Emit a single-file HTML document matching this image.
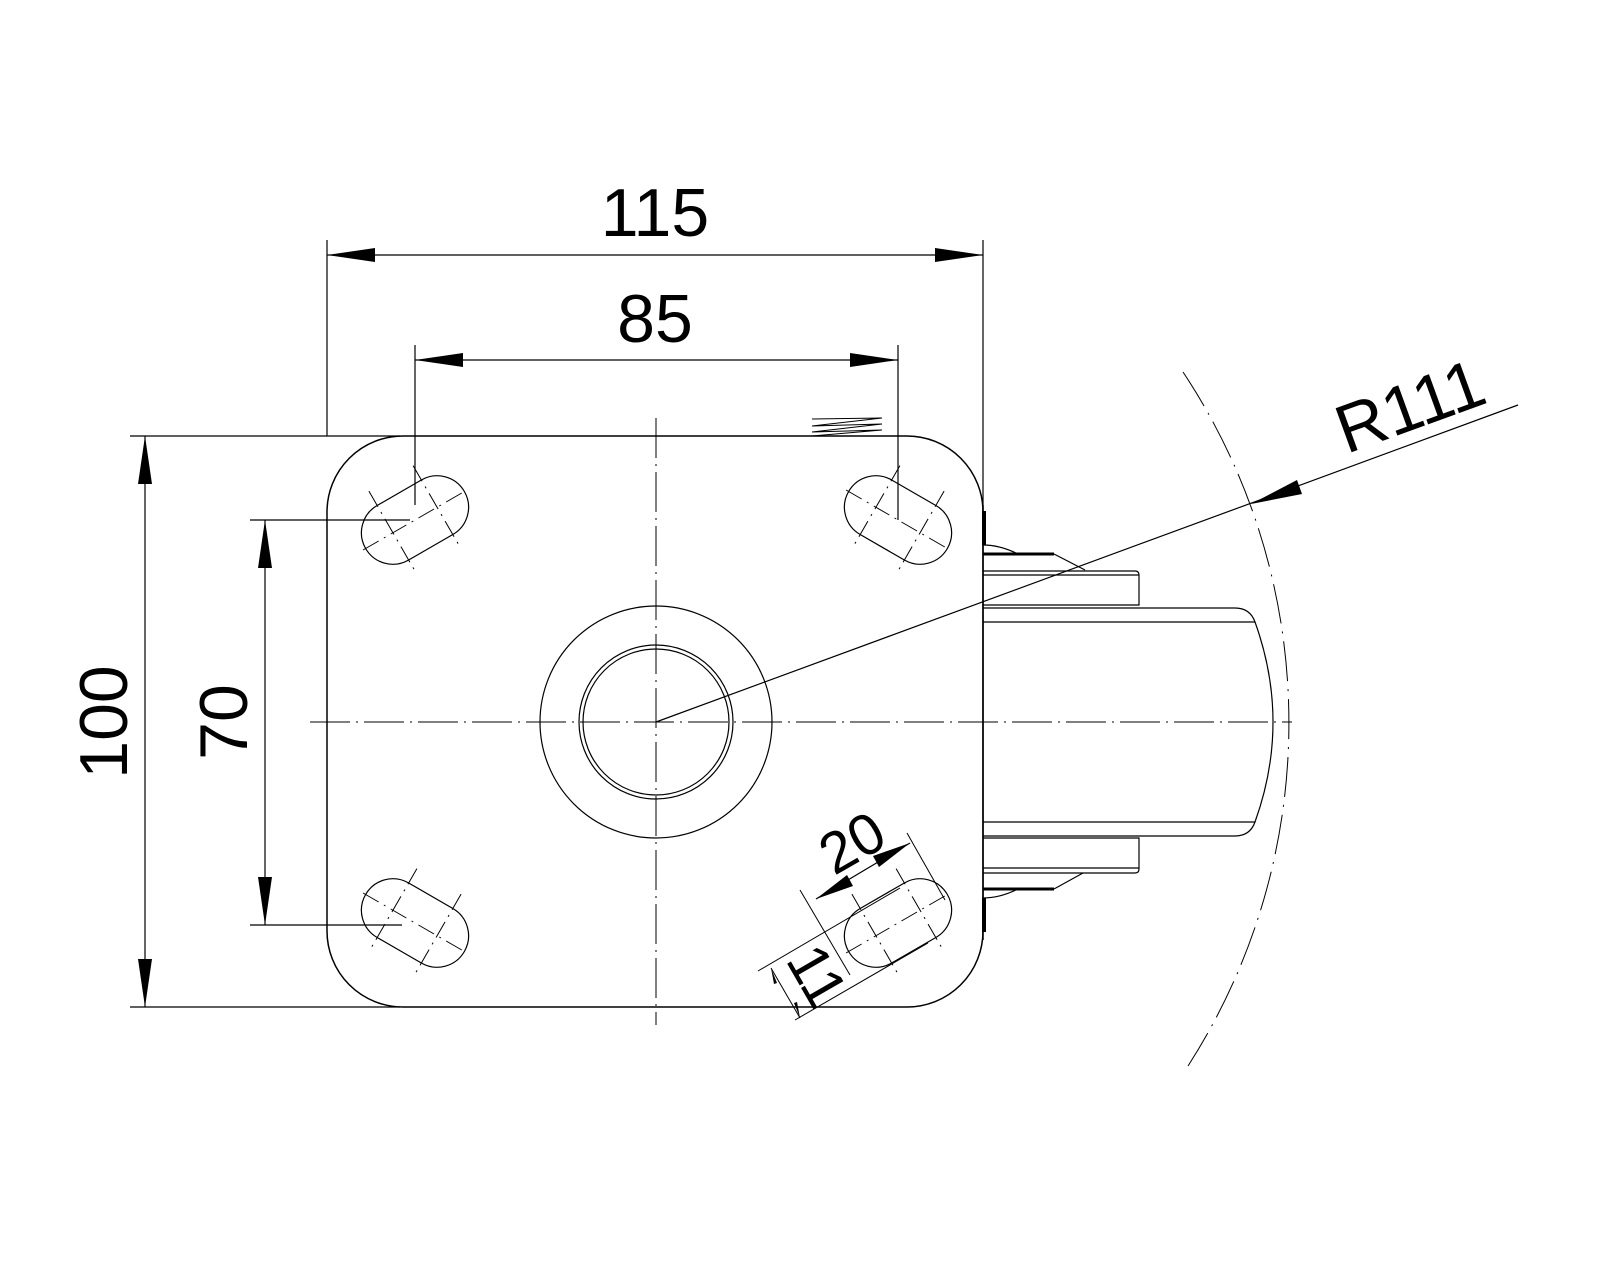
<!DOCTYPE html>
<html><head><meta charset="utf-8"><style>
html,body{margin:0;padding:0;background:#fff;}
svg{display:block;}
text{font-family:"Liberation Sans",sans-serif;font-size:68px;fill:#000;}
</style></head><body>
<svg width="1600" height="1280" viewBox="0 0 1600 1280" xmlns="http://www.w3.org/2000/svg">
<defs>
<g id="slot">
  <path d="M-25.5,-31.5 L25.5,-31.5 A31.5,31.5 0 0 1 25.5,31.5 L-25.5,31.5 A31.5,31.5 0 0 1 -25.5,-31.5 Z" fill="none" stroke="#000" stroke-width="1.2"/>
  <line x1="-60" y1="0" x2="60" y2="0" stroke="#000" stroke-width="1" stroke-dasharray="18,6,2,6"/>
  <line x1="-25.5" y1="-48" x2="-25.5" y2="48" stroke="#000" stroke-width="1" stroke-dasharray="18,6,2,6"/>
  <line x1="25.5" y1="-48" x2="25.5" y2="48" stroke="#000" stroke-width="1" stroke-dasharray="18,6,2,6"/>
</g>
</defs>
<g fill="none" stroke="#000" stroke-width="1.2">
<rect x="327" y="436" width="656" height="571" rx="76" ry="76" stroke-width="1.5"/>
<circle cx="656" cy="722" r="116"/>
<circle cx="656" cy="722" r="77"/>
<circle cx="656" cy="722" r="73"/>
<line x1="310" y1="722" x2="1292" y2="722" stroke-width="1" stroke-dasharray="40,6,2,6"/>
<line x1="656" y1="418" x2="656" y2="1025" stroke-width="1" stroke-dasharray="40,6,2,6"/>
<path d="M1183,372 A634,634 0 0 1 1188,1066" stroke-width="1" stroke-dasharray="40,8,2,8"/>
<path d="M984,511 L984,545" stroke-width="4"/>
<path d="M983,545 Q1000,545 1018,554"/>
<path d="M983,554 L1054,554" stroke-width="3"/>
<path d="M1054,554 L1085,570"/>
<path d="M983,571 L1135,571 Q1139,571 1139,575 L1139,605 L983,605"/>
<line x1="983" y1="575" x2="1139" y2="575"/>
<path d="M983,608 L1235,608 Q1250,608 1255,622 Q1273,672 1273,722 Q1273,772 1255,822 Q1250,836 1235,836 L983,836"/>
<line x1="983" y1="622" x2="1255" y2="622"/>
<line x1="983" y1="822" x2="1255" y2="822"/>
<path d="M983,838 L1139,838 L1139,869 Q1139,873 1135,873 L983,873"/>
<line x1="983" y1="868" x2="1139" y2="868"/>
<path d="M1054,889 L1083,873"/>
<path d="M983,889 L1054,889" stroke-width="3"/>
<path d="M983,898 Q1000,898 1018,889"/>
<path d="M984,898 L984,932" stroke-width="4"/>
<line x1="983" y1="505" x2="983" y2="940" stroke-width="1.5"/>
<path d="M812,419 L882,418 L812,426 L882,424 L812,432 L882,430 L812,436" stroke-width="1"/>
</g>
<use href="#slot" transform="translate(415,520) rotate(-30)"/>
<use href="#slot" transform="translate(898,520) rotate(30)"/>
<use href="#slot" transform="translate(415,923) rotate(30)"/>
<use href="#slot" transform="translate(898,923) rotate(-30)"/>
<g stroke="#000" stroke-width="1.2" fill="none">
<line x1="327" y1="240" x2="327" y2="436"/>
<line x1="983" y1="240" x2="983" y2="510"/>
<line x1="327" y1="255" x2="983" y2="255"/>
<line x1="415" y1="345" x2="415" y2="505"/>
<line x1="898" y1="345" x2="898" y2="520"/>
<line x1="415" y1="360" x2="898" y2="360"/>
<line x1="130" y1="436" x2="400" y2="436"/>
<line x1="130" y1="1007" x2="400" y2="1007"/>
<line x1="145" y1="436" x2="145" y2="1007"/>
<line x1="250" y1="520" x2="410" y2="520"/>
<line x1="250" y1="925" x2="402" y2="925"/>
<line x1="265" y1="520" x2="265" y2="925"/>
<line x1="656" y1="722" x2="1518" y2="405"/>
<line x1="816" y1="899" x2="910" y2="843"/>
<line x1="800" y1="890" x2="850" y2="975" stroke-width="1"/>
<line x1="907" y1="833" x2="945" y2="900" stroke-width="1"/>
<line x1="758" y1="971" x2="900" y2="888" stroke-width="1"/>
<line x1="795" y1="1020" x2="928" y2="943" stroke-width="1"/>
<line x1="771" y1="968" x2="800" y2="1018" stroke-width="1"/>
</g>
<g fill="#000">
<polygon points="327,255 375,248 375,262"/>
<polygon points="983,255 935,248 935,262"/>
<polygon points="415,360 463,353 463,367"/>
<polygon points="898,360 850,353 850,367"/>
<polygon points="145,436 138,484 152,484"/>
<polygon points="145,1007 138,959 152,959"/>
<polygon points="265,520 258,568 272,568"/>
<polygon points="265,925 258,877 272,877"/>
<polygon points="1251,504 1297,480 1302,494"/>
<polygon points="816,899 847,875 853,886"/>
<polygon points="910,843 879,867 873,856"/>
<polygon points="771,968 777,983 774,984"/>
<polygon points="800,1018 794,1003 797,1002"/>
</g>
<text x="655" y="236" text-anchor="middle">115</text>
<text x="655" y="342" text-anchor="middle">85</text>
<text transform="translate(127,722) rotate(-90)" text-anchor="middle">100</text>
<text transform="translate(247,722) rotate(-90)" text-anchor="middle">70</text>
<text transform="translate(1418,428) rotate(-20)" text-anchor="middle">R111</text>
<text transform="translate(862,860) rotate(-30)" text-anchor="middle" style="font-size:58px">20</text>
<text transform="translate(800,986) rotate(60)" text-anchor="middle" style="font-size:58px">11</text>
</svg>
</body></html>
